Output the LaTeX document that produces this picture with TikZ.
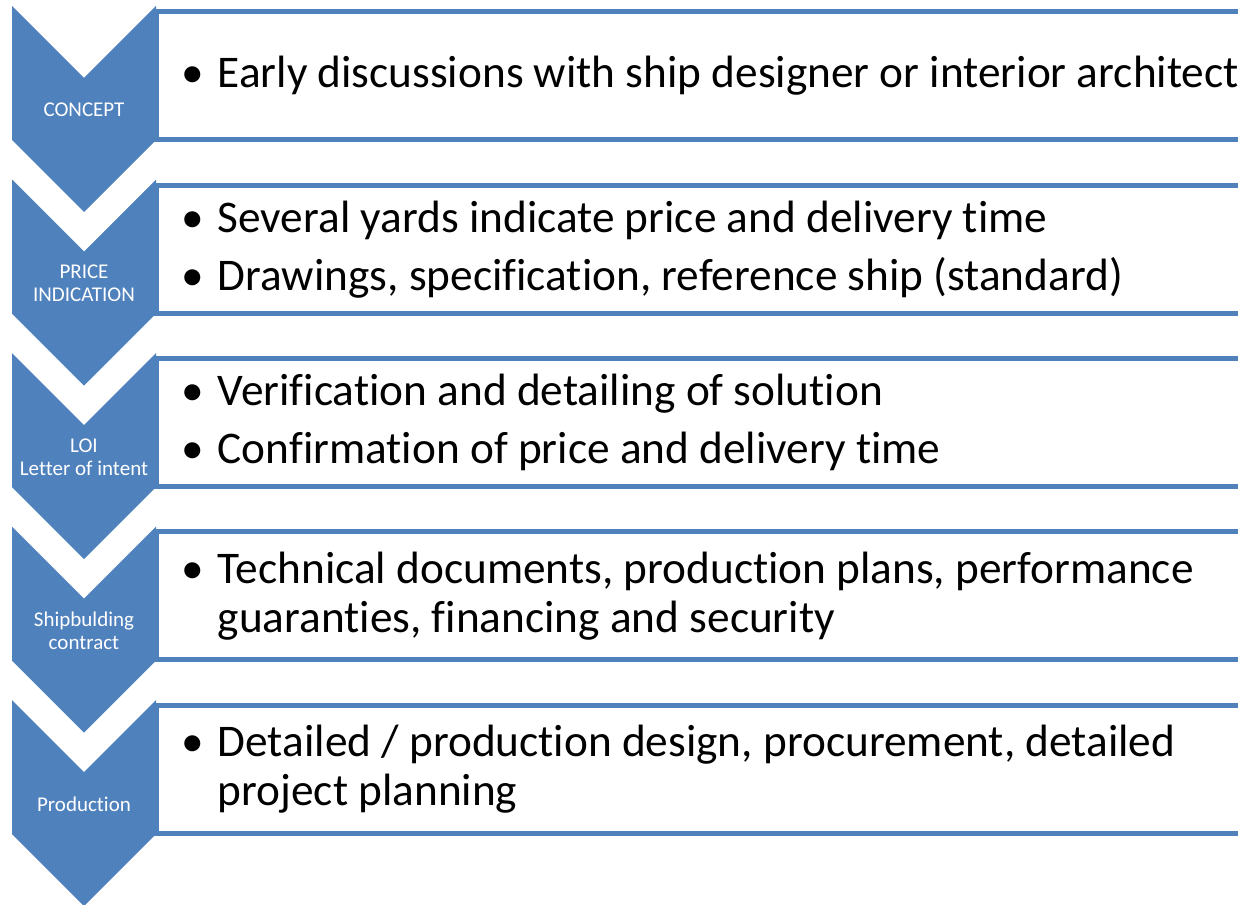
\documentclass[tikz,border=0pt]{standalone}
\usepackage{fontspec}
\setmainfont{Carlito}[Ligatures=NoCommon]
\usepackage[HTML]{xcolor}
\definecolor{chevblue}{HTML}{4F81BD}
\usetikzlibrary{positioning}

\begin{document}
\begin{tikzpicture}[x=1pt, y=-1pt,
  stage/.style={text=white, font=\fontsize{21}{23}\selectfont, align=center, inner sep=0pt},
  item/.style={anchor=west, font=\fontsize{45.3}{49}\selectfont, inner sep=0pt}]
\path[use as bounding box, clip] (0,0) rectangle (1238,904);

% boxes
\foreach \i in {0,...,4}{
  \pgfmathsetmacro{\yb}{12+\i*173.25}
  \draw[chevblue, line width=5pt, fill=white] (156,\yb) rectangle (1270,\yb+128);
}
% chevrons
\foreach \i in {0,...,4}{
  \pgfmathsetmacro{\yt}{6+\i*173.5}
  \fill[chevblue] (12,\yt) -- (84,\yt+72) -- (156,\yt) -- (156,\yt+134)
    -- (84,\yt+206) -- (12,\yt+134) -- cycle;
}

% stage labels
\node[stage] (concept) at (84,110) {CONCEPT};
\node[stage] (price) at (84,283.5) {PRICE\\INDICATION};
\node[stage] (loi) at (84,457) {LOI\\Letter of intent};
\node[stage] (contract) at (84,630.5) {Shipbulding\\contract};
\node[stage] (production) at (84,804) {Production};

% bullet texts
\node[item] (conceptText) at (181,78) {\begin{tabular}{@{}l@{\hspace{14pt}}l@{}}
  \textbullet & Early discussions with ship designer or interior architect\end{tabular}};
\node[item] (priceText) at (181,251.5) {\begin{tabular}{@{}l@{\hspace{14pt}}l@{}}
  \textbullet & Several yards indicate price and delivery time\\[9pt]
  \textbullet & Drawings, specification, reference ship (standard)\end{tabular}};
\node[item] (loiText) at (181,425) {\begin{tabular}{@{}l@{\hspace{14pt}}l@{}}
  \textbullet & Verification and detailing of solution\\[9pt]
  \textbullet & Confirmation of price and delivery time\end{tabular}};
\node[item] (contractText) at (181,598.5) {\begin{tabular}{@{}l@{\hspace{14pt}}l@{}}
  \textbullet & Technical documents, production plans, performance\\
  & guaranties, financing and security\end{tabular}};
\node[item] (productionText) at (181,771.5) {\begin{tabular}{@{}l@{\hspace{14pt}}l@{}}
  \textbullet & Detailed / production design, procurement, detailed\\
  & project planning\end{tabular}};
\end{tikzpicture}
\end{document}
